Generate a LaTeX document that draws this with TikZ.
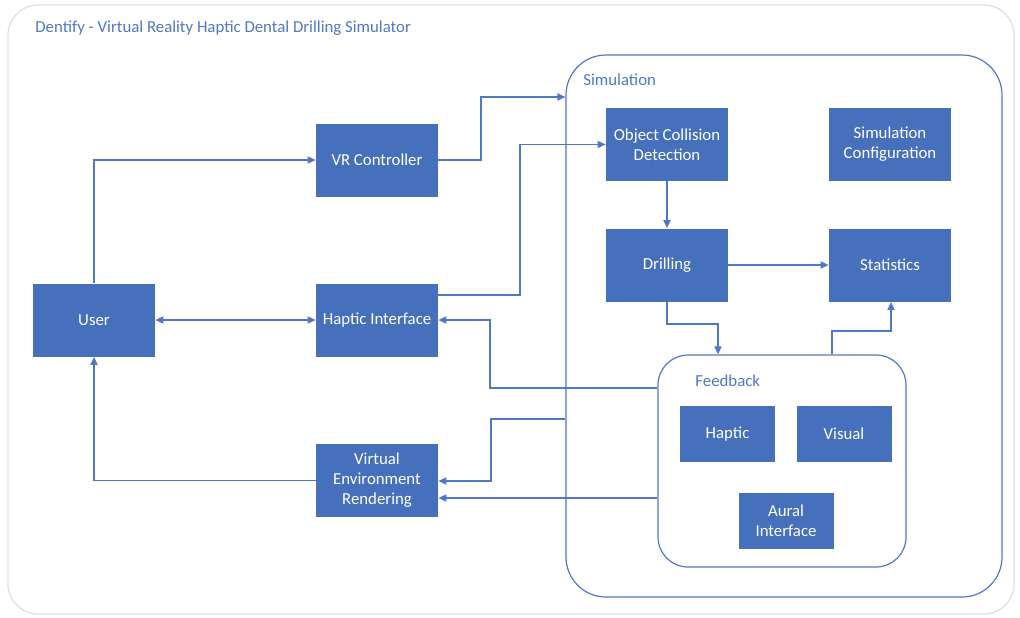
\documentclass[tikz,border=0pt]{standalone}
\usepackage{fontspec}
\setmainfont{Carlito}
\usetikzlibrary{arrows.meta}

\definecolor{boxblue}{RGB}{70,112,188}
\definecolor{lineblue}{RGB}{80,120,200}
\definecolor{framegray}{RGB}{222,222,222}

\begin{document}
\begin{tikzpicture}[x=0.5pt, y=-0.5pt,
    font=\fontsize{8.4}{10}\selectfont,
    block/.style={fill=boxblue, text=white, align=center, minimum width=61pt, minimum height=36.5pt, inner sep=1pt},
    smallblock/.style={block, minimum width=47.5pt, minimum height=28pt},
    group/.style={draw=lineblue, line width=0.6pt, inner sep=0pt},
    link/.style={draw=lineblue, line width=0.6pt, -{Triangle[length=4pt, width=3.6pt]}},
    label/.style={text=lineblue, anchor=west, inner sep=0pt}]
    \useasboundingbox (0,0) rectangle (1020,617);

    % Outer frame and title
    \draw[framegray, line width=0.6pt, rounded corners=15pt] (8,5) rectangle (1014,614);
    \node[label] (title) at (35,28) {Dentify - Virtual Reality Haptic Dental Drilling Simulator};

    % Containers
    \node[group, rounded corners=20pt, minimum width=218pt, minimum height=271pt] (sim) at (784,326) {};
    \node[label] (simlabel) at (583,80) {Simulation};
    \node[group, rounded corners=15pt, minimum width=124pt, minimum height=106pt] (fb) at (782,461) {};
    \node[label] (fblabel) at (695,381) {Feedback};

    % Left column
    \node[block] (user) at (94,320) {User};
    \node[block] (vr) at (377,160) {VR Controller};
    \node[block] (hi) at (377,320) {Haptic Interface};
    \node[block] (ver) at (377,480.5) {Virtual\\Environment\\Rendering};

    % Simulation parts
    \node[block] (ocd) at (667,144.5) {Object Collision\\Detection};
    \node[block] (conf) at (890,144.5) {Simulation\\Configuration};
    \node[block] (drill) at (667,265) {Drilling};
    \node[block] (stats) at (890,265) {Statistics};

    % Feedback parts
    \node[smallblock] (haptic) at (727.5,434) {Haptic};
    \node[smallblock] (visual) at (844,434) {Visual};
    \node[smallblock] (aural) at (786,520.5) {Aural\\Interface};

    % Connectors
    \draw[link] (user.north) |- (vr.west);
    \draw[link] (vr.east) -| (481,97) -- (sim.west |- 0,97);
    \draw[link] (hi.east |- 0,295) -| (520,144.5) -- (ocd.west);
    \draw[link, {Triangle[length=4pt, width=3.6pt]}-{Triangle[length=4pt, width=3.6pt]}] (user.east) -- (hi.west);
    \draw[link] (fb.west |- 0,388) -| (490,320) -- (hi.east);
    \draw[link] (sim.west |- 0,419) -| (491,481) -- (ver.east |- 0,481);
    \draw[link] (fb.west |- 0,498) -- (ver.east |- 0,498);
    \draw[link] (ver.west) -| (user.south);
    \draw[link] (ocd) -- (drill);
    \draw[link] (drill) -- (stats);
    \draw[link] (drill.south) |- (718,324) -- (fb.north -| 718,0);
    \draw[link] (fb.north -| 832,0) |- (891,331) -- (stats.south -| 891,0);
\end{tikzpicture}
\end{document}
